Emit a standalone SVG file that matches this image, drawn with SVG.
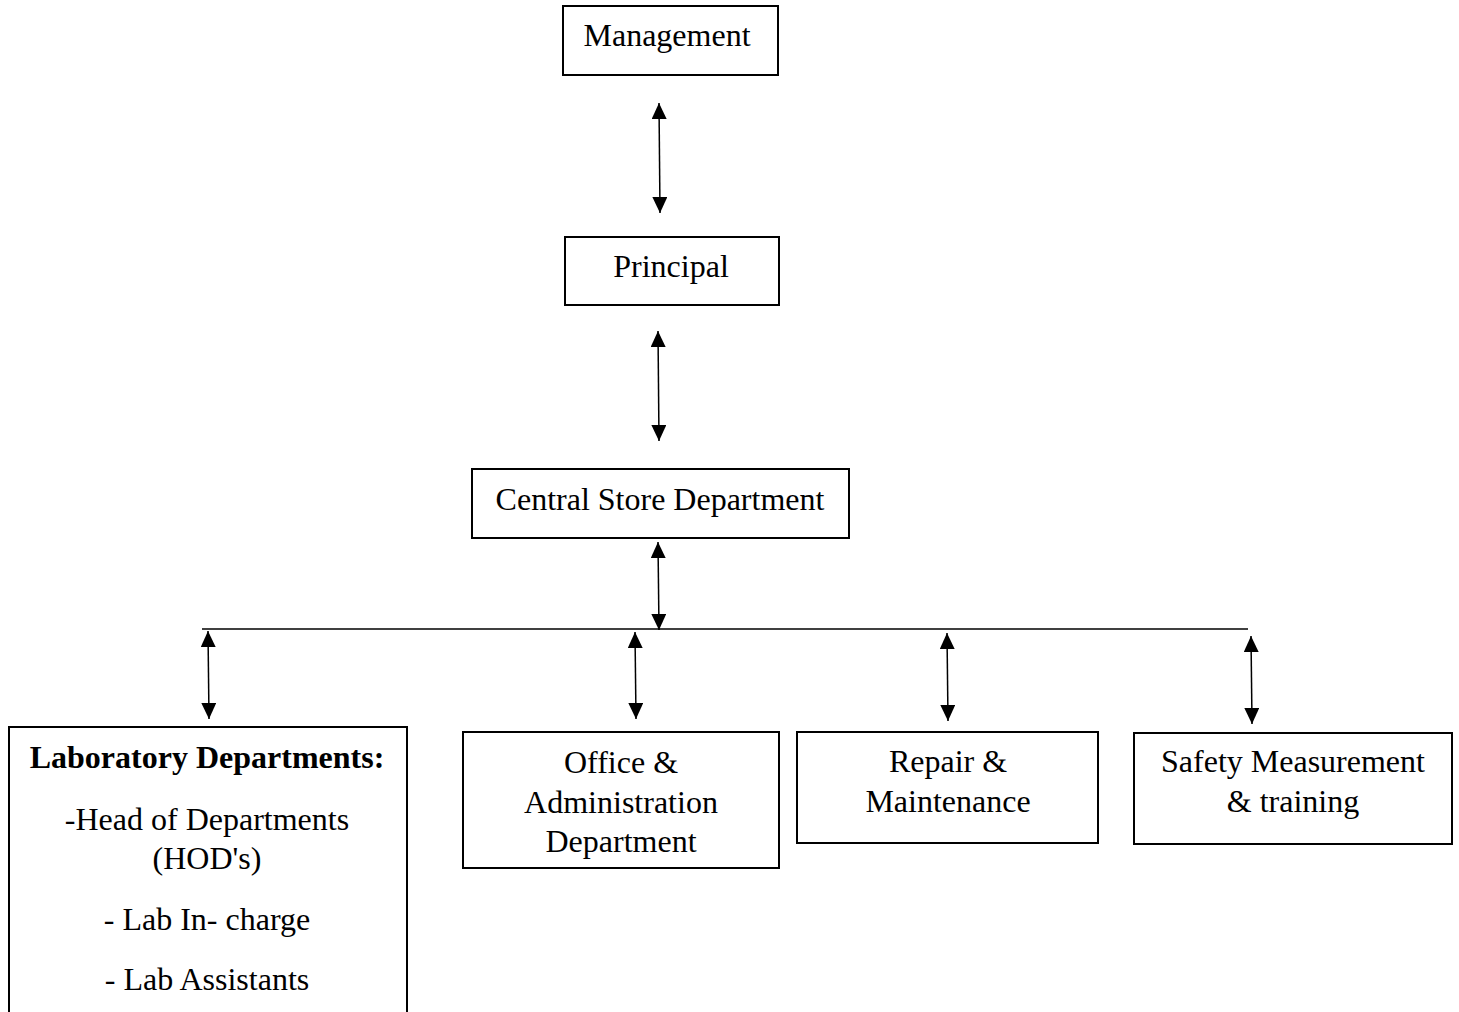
<svg xmlns="http://www.w3.org/2000/svg" width="1459" height="1012" viewBox="0 0 1459 1012">
<style>
.box{fill:#fff;stroke:#000;stroke-width:2}
.t{font-family:"Liberation Serif","Times New Roman",serif;font-size:32px;fill:#000;text-anchor:middle}
.b{font-weight:bold;font-size:32px}
.c{stroke:#000;stroke-width:1.5;fill:none}
</style>
<defs>
<marker id="ah" markerUnits="userSpaceOnUse" markerWidth="16" markerHeight="15" refX="16" refY="7.5" orient="auto-start-reverse" viewBox="0 0 16 15">
<path d="M0,0 L16,7.5 L0,15 z" fill="#000"/>
</marker>
</defs>
<rect width="1459" height="1012" fill="#fff"/>
<g id="connectors">
<line class="c" x1="659" y1="103" x2="660" y2="213" marker-start="url(#ah)" marker-end="url(#ah)"/>
<line class="c" x1="658" y1="331" x2="659" y2="441" marker-start="url(#ah)" marker-end="url(#ah)"/>
<line class="c" x1="658" y1="542" x2="659" y2="630" marker-start="url(#ah)" marker-end="url(#ah)"/>
<line class="c" x1="202" y1="629" x2="1248" y2="629"/>
<line class="c" x1="208" y1="631" x2="209" y2="719" marker-start="url(#ah)" marker-end="url(#ah)"/>
<line class="c" x1="635" y1="632" x2="636" y2="719" marker-start="url(#ah)" marker-end="url(#ah)"/>
<line class="c" x1="947" y1="633" x2="948" y2="721" marker-start="url(#ah)" marker-end="url(#ah)"/>
<line class="c" x1="1251" y1="636" x2="1252" y2="724" marker-start="url(#ah)" marker-end="url(#ah)"/>
</g>
<g id="management">
<rect class="box" x="563" y="6" width="215" height="69"/>
<text class="t" x="667" y="46">Management</text>
</g>
<g id="principal">
<rect class="box" x="565" y="237" width="214" height="68"/>
<text class="t" x="671" y="277">Principal</text>
</g>
<g id="central">
<rect class="box" x="472" y="469" width="377" height="69"/>
<text class="t" x="660" y="510">Central Store Department</text>
</g>
<g id="lab">
<rect class="box" x="9" y="727" width="398" height="300"/>
<text class="t b" x="207" y="768">Laboratory Departments:</text>
<text class="t" x="207" y="830">-Head of Departments</text>
<text class="t" x="207" y="869">(HOD's)</text>
<text class="t" x="207" y="930">- Lab In- charge</text>
<text class="t" x="207" y="990">- Lab Assistants</text>
</g>
<g id="office">
<rect class="box" x="463" y="732" width="316" height="136"/>
<text class="t" x="621" y="773">Office &amp;</text>
<text class="t" x="621" y="813">Administration</text>
<text class="t" x="621" y="852">Department</text>
</g>
<g id="repair">
<rect class="box" x="797" y="732" width="301" height="111"/>
<text class="t" x="948" y="772">Repair &amp;</text>
<text class="t" x="948" y="812">Maintenance</text>
</g>
<g id="safety">
<rect class="box" x="1134" y="733" width="318" height="111"/>
<text class="t" x="1293" y="772">Safety Measurement</text>
<text class="t" x="1293" y="812">&amp; training</text>
</g>
</svg>
